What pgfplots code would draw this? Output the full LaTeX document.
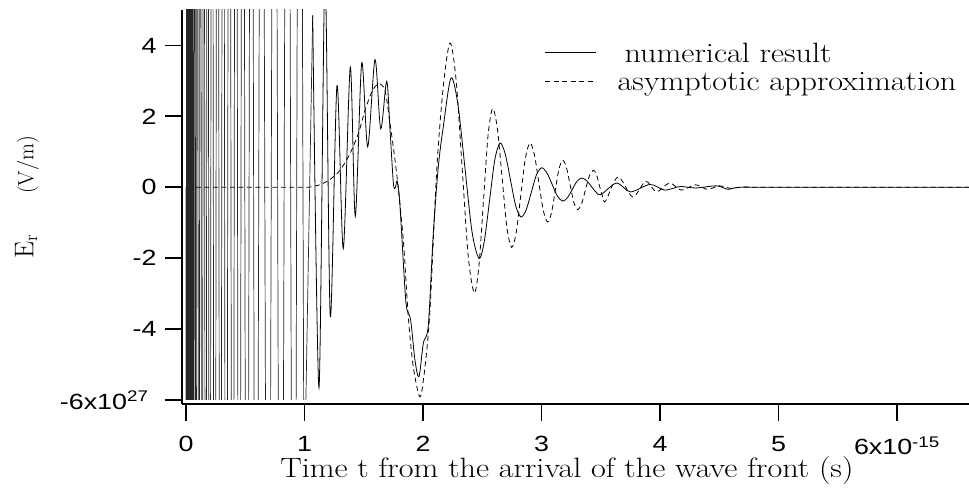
\documentclass[border=0pt]{standalone}
\usepackage{fontspec}
\setsansfont{Liberation Sans}[FakeStretch=1.22]
\usepackage{graphicx}
\usepackage{pgfplots}
\pgfplotsset{compat=1.18}
\usetikzlibrary{calc}

\begin{document}
\begin{tikzpicture}
\begin{axis}[
  name=ax,
  scale only axis,
  width=787pt, height=390pt,
  xmin=-0.0338, xmax=6.608,
  ymin=-6, ymax=5,
  axis lines=left,
  axis line style={-, line width=1.8pt},
  x axis line style={yshift=-4pt},
  y axis line style={shorten <=-4pt},
  tick align=outside,
  major tick length=17pt,
  every tick/.style={black, line width=1.8pt},
  x tick style={yshift=-4pt},
  xtick={0,1,2,3,4,5,6},
  xticklabels={0,1,2,3,4,5,{6x10\textsuperscript{-15}}},
  ytick={-6,-4,-2,0,2,4},
  yticklabels={{-6x10\textsuperscript{27}\hspace*{8pt}},-4,-2,0,2,4},
  ticklabel style={font=\fontsize{22}{22}\selectfont\sffamily},
  xticklabel style={yshift=-16pt},
  yticklabel style={xshift=-5pt},
  xlabel={\scalebox{1.15}[1]{Time t from the arrival of the wave front (s)}},
  ylabel={{\fontsize{27}{29}\selectfont E\textsubscript{r}}\hspace{40pt}(V/m)},
  xlabel style={font=\fontsize{28}{30}\selectfont,
    at={(axis description cs:0.489,-0.200)}, anchor=base},
  ylabel style={font=\fontsize{22}{24}\selectfont,
    at={(axis description cs:-0.197,0.5205)}, anchor=center},
  legend style={draw=none, fill=none, at={(axis description cs:0.457,0.921)},
    anchor=north west, font=\fontsize{28}{30}\selectfont,
    nodes={inner sep=0pt}, column sep=21pt, row sep=9pt},
  legend cell align=left,
  legend image code/.code={\draw[#1] (0pt,1pt) -- (51pt,1pt);},
]

% numerical result, dense early part (clipped)
\addplot[black!85, line width=0.7pt, forget plot] coordinates {
(0,0)
(0.0021,-30) (0.0063,30) (0.0105,-30) (0.0148,30) (0.0194,-30)
(0.0245,30) (0.0295,-30) (0.0346,30) (0.0397,-30) (0.0451,30)
(0.0511,-30) (0.0570,30) (0.0646,-30) (0.0743,30) (0.0848,-30)
(0.0962,30) (0.1084,-30) (0.1215,30) (0.1354,-30) (0.1502,30)
(0.1658,-30) (0.1823,30) (0.1996,-30) (0.2194,30) (0.2418,-30)
(0.2658,30) (0.2899,-30) (0.3131,30) (0.3384,-30) (0.3658,30)
(0.3932,-30) (0.4207,30) (0.4489,-30) (0.4793,30) (0.5135,-30)
(0.5511,30) (0.5903,-30) (0.6376,30) (0.6924,-30) (0.7464,30)
(0.8000,-30) (0.8565,30) (0.9101,-30) (0.9586,30)
(0.9958,-9) (1.0692,4.85)
};

% numerical result
\addplot[black, line width=0.8pt, smooth] coordinates {
(1.0692,4.85) (1.1224,-5.66) (1.173,6.0) (1.2177,-3.65) (1.2743,2.87)
(1.3274,-1.73) (1.3865,3.39) (1.4287,-0.82) (1.4827,3.50) (1.5333,1.14)
(1.5949,3.60) (1.6430,1.65) (1.6937,2.99) (1.722,1.60) (1.750,0.12)
(1.766,-0.02) (1.781,0.18) (1.800,-0.25) (1.820,-1.30) (1.857,-3.28)
(1.896,-3.75) (1.932,-4.87) (1.966,-5.34) (2.003,-4.40) (2.045,-3.89)
(2.087,-1.30) (2.129,0.57) (2.171,1.70) (2.236,3.08)
(2.295,2.33) (2.3545,0.535) (2.414,-1.26) (2.473,-2.01)
(2.517,-1.53) (2.5615,-0.38) (2.606,0.77) (2.650,1.25)
(2.694,0.94) (2.7385,0.205) (2.783,-0.53) (2.827,-0.84)
(2.8705,-0.64) (2.914,-0.145) (2.9575,0.35) (3.001,0.55)
(3.0455,0.41) (3.09,0.08) (3.1345,-0.25) (3.179,-0.39)
(3.219,-0.295) (3.259,-0.065) (3.299,0.165) (3.339,0.26)
(3.38,0.19) (3.42,0.025) (3.461,-0.14) (3.502,-0.21)
(3.634,0.12) (3.75,-0.13) (3.916,0.08) (4.04,-0.08) (4.17,0.02)
(4.30,-0.02) (4.478,0.04) (4.576,-0.06) (4.67,0.0) (5.0,0.0) (6.608,0.0)
};
\addlegendentry{\scalebox{1.15}[1]{\hspace*{6pt}numerical result}}

% asymptotic approximation
\addplot[black, line width=0.8pt, smooth, dash pattern=on 5pt off 3.5pt] coordinates {
(0.084,0) (0.5,0) (1.00,0.0) (1.06,0.02) (1.13,0.07) (1.215,0.22)
(1.30,0.48) (1.384,0.95) (1.454,1.51) (1.511,2.17) (1.567,2.68)
(1.623,2.92) (1.679,2.73) (1.722,1.80) (1.778,0.38) (1.834,-1.49)
(1.876,-3.65) (1.918,-5.06) (1.975,-5.91) (2.017,-5.06) (2.059,-3.46)
(2.116,0.48) (2.171,2.83) (2.228,4.07)
(2.279,3.04) (2.3305,0.545) (2.382,-1.95) (2.433,-2.98)
(2.472,-2.22) (2.5105,-0.38) (2.549,1.46) (2.588,2.22)
(2.628,1.65) (2.668,0.26) (2.708,-1.13) (2.748,-1.70)
(2.787,-1.27) (2.8255,-0.225) (2.864,0.82) (2.903,1.25)
(2.940,0.92) (2.9775,0.135) (3.015,-0.65) (3.052,-0.98)
(3.084,-0.725) (3.1155,-0.11) (3.147,0.505) (3.179,0.76)
(3.2105,0.56) (3.242,0.065) (3.2735,-0.43) (3.305,-0.63)
(3.338,-0.47) (3.371,-0.075) (3.404,0.32) (3.437,0.48)
(3.463,0.37) (3.489,0.045) (3.515,-0.26) (3.541,-0.39)
(3.646,0.29) (3.77,-0.27) (3.88,0.17) (3.97,-0.13) (4.08,0.12)
(4.18,-0.08) (4.30,0.07) (4.40,-0.06) (4.50,0.04) (4.60,-0.03)
(4.70,0.01) (4.80,0.0) (5.5,0.0) (6.608,0.0)
};
\addlegendentry{\scalebox{1.15}[1]{asymptotic approximation}}

\end{axis}
\pgfresetboundingbox
\path ($(ax.south west)+(-182pt,-93pt)$) rectangle ($(ax.north east)+(0pt,10pt)$);
\end{tikzpicture}
\end{document}
